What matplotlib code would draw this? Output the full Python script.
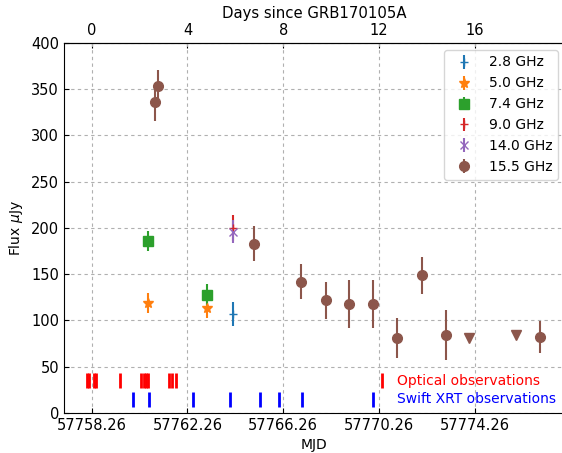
import matplotlib
matplotlib.use("Agg")
import matplotlib.pyplot as plt

T0 = 57758.26  # MJD of GRB170105A

# --- Radio data (MJD, flux uJy, error)
mjd_2p8 = [57764.16]
flux_2p8 = [107]
err_2p8 = [13]

mjd_5p0 = [57760.61, 57763.09]
flux_5p0 = [119, 113]
err_5p0 = [11, 10]

mjd_7p4 = [57760.61, 57763.09]
flux_7p4 = [186, 128]
err_7p4 = [11, 11]

mjd_9p0 = [57764.16]
flux_9p0 = [200]
err_9p0 = [14]

mjd_14p0 = [57764.16]
flux_14p0 = [196]
err_14p0 = [12.5]

mjd_15p5 = [57760.90, 57761.04, 57765.03, 57767.02, 57768.04, 57769.02,
            57770.03, 57771.02, 57772.05, 57773.05, 57777.01]
flux_15p5 = [336, 354, 183, 142, 122, 118, 118, 81, 149, 84, 82]
err_15p5 = [20, 17, 19, 19, 20, 26, 26, 22, 20, 27, 17]

# upper limits at 15.5 GHz
mjd_ul = [57774.02, 57775.98]
flux_ul = [81, 84]

# --- Optical and X-ray observation epochs
mjd_optical = [57758.06, 57758.15, 57758.36, 57758.44, 57759.44, 57760.32,
               57760.43, 57760.53, 57760.63, 57761.49, 57761.60, 57761.77,
               57770.38]
mjd_xrt = [57760.00, 57760.66, 57762.51, 57764.04, 57765.31, 57766.10,
           57767.04, 57770.03]

fig = plt.figure(figsize=(5.62, 4.53), dpi=100)
ax = fig.add_axes([0.1139, 0.0883, 0.8914, 0.8168])

ax.errorbar(mjd_2p8, flux_2p8, yerr=err_2p8, fmt='+', ms=6, color='C0', label='2.8 GHz')
ax.errorbar(mjd_5p0, flux_5p0, yerr=err_5p0, fmt='*', ms=7, color='C1', label='5.0 GHz')
ax.errorbar(mjd_7p4, flux_7p4, yerr=err_7p4, fmt='s', ms=6.5, color='C2', label='7.4 GHz')
ax.errorbar(mjd_9p0, flux_9p0, yerr=err_9p0, fmt='+', ms=6, color='C3', label='9.0 GHz')
ax.errorbar(mjd_14p0, flux_14p0, yerr=err_14p0, fmt='x', ms=6, color='C4', label='14.0 GHz')
ax.errorbar(mjd_15p5, flux_15p5, yerr=err_15p5, fmt='o', ms=7, color='C5', label='15.5 GHz')
ax.plot(mjd_ul, flux_ul, 'v', ms=7, color='C5')

ax.vlines(mjd_optical, 27, 43, colors='red', lw=2)
ax.vlines(mjd_xrt, 7, 23, colors='blue', lw=2)
ax.text(57771.0, 35, 'Optical observations', color='red', va='center', fontsize=10)
ax.text(57771.0, 15, 'Swift XRT observations', color='blue', va='center', fontsize=10)

ax.set_xlim(57757.10, 57778.04)
ax.set_ylim(0, 400)
ax.set_xticks([T0 + d for d in [0, 4, 8, 12, 16]])
ax.set_xticklabels(['57758.26', '57762.26', '57766.26', '57770.26', '57774.26'])
ax.set_yticks(range(0, 401, 50))
ax.tick_params(direction='in', labelsize=10.5)
ax.grid(True, linestyle=(0, (3, 3)), color='#b0b0b0')
ax.set_xlabel('MJD')
ax.set_ylabel(r'Flux $\mu$Jy')

top = ax.secondary_xaxis('top', functions=(lambda x: x - T0, lambda d: d + T0))
top.set_xticks([0, 4, 8, 12, 16])
top.tick_params(direction='in', labelsize=10.5)
top.set_xlabel('Days since GRB170105A', fontsize=10.7)

ax.legend(loc='upper right', fontsize=10)

fig.savefig('out.png', dpi=100)
